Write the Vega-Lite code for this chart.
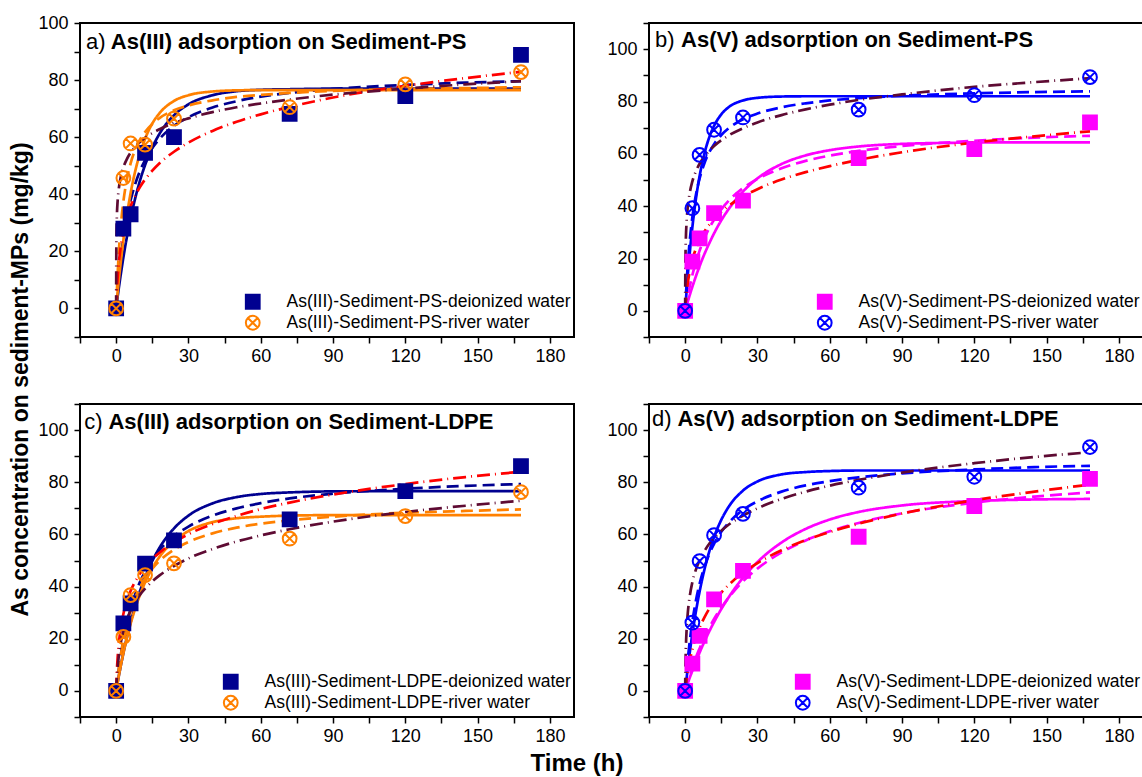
{
"$schema": "https://vega.github.io/schema/vega-lite/v6.json",
"padding": {"left": 9, "top": 13, "right": 0, "bottom": 0},
"config": {
  "font": "Liberation Sans",
  "view": {"stroke": "black", "strokeWidth": 2},
  "axis": {"grid": false, "domain": false, "tickColor": "black", "tickWidth": 1.5, "tickSize": 6, "labelFont": "Liberation Sans", "labelFontSize": 18, "labelColor": "black", "labelPadding": 4},
  "legend": {"orient": "bottom-right", "offset": 3, "padding": 0, "labelFont": "Liberation Sans", "labelFontSize": 17.5, "labelColor": "black", "labelLimit": 0, "symbolSize": 190, "symbolStrokeWidth": 2, "labelOffset": 25, "rowPadding": -2},
  "title": {"font": "Liberation Sans", "fontWeight": "bold", "color": "black"}
},
"title": {"text": "Time (h)", "orient": "bottom", "fontSize": 24, "offset": 6, "anchor": "middle"},
"datasets": {
"points": [
{"panel":"a","series":"As(III)-Sediment-PS-deionized water","time":0,"q":0},
{"panel":"a","series":"As(III)-Sediment-PS-deionized water","time":3,"q":28},
{"panel":"a","series":"As(III)-Sediment-PS-deionized water","time":6,"q":33},
{"panel":"a","series":"As(III)-Sediment-PS-deionized water","time":12,"q":54.5},
{"panel":"a","series":"As(III)-Sediment-PS-deionized water","time":24,"q":60},
{"panel":"a","series":"As(III)-Sediment-PS-deionized water","time":72,"q":68.2},
{"panel":"a","series":"As(III)-Sediment-PS-deionized water","time":120,"q":74.4},
{"panel":"a","series":"As(III)-Sediment-PS-deionized water","time":168,"q":88.8},
{"panel":"a","series":"As(III)-Sediment-PS-river water","time":0,"q":0},
{"panel":"a","series":"As(III)-Sediment-PS-river water","time":3,"q":45.7},
{"panel":"a","series":"As(III)-Sediment-PS-river water","time":6,"q":57.8},
{"panel":"a","series":"As(III)-Sediment-PS-river water","time":12,"q":57.4},
{"panel":"a","series":"As(III)-Sediment-PS-river water","time":24,"q":66.5},
{"panel":"a","series":"As(III)-Sediment-PS-river water","time":72,"q":70.5},
{"panel":"a","series":"As(III)-Sediment-PS-river water","time":120,"q":78.5},
{"panel":"a","series":"As(III)-Sediment-PS-river water","time":168,"q":82.8},
{"panel":"b","series":"As(V)-Sediment-PS-deionized water","time":0,"q":0},
{"panel":"b","series":"As(V)-Sediment-PS-deionized water","time":3,"q":18.8},
{"panel":"b","series":"As(V)-Sediment-PS-deionized water","time":6,"q":27.7},
{"panel":"b","series":"As(V)-Sediment-PS-deionized water","time":12,"q":37.3},
{"panel":"b","series":"As(V)-Sediment-PS-deionized water","time":24,"q":42.1},
{"panel":"b","series":"As(V)-Sediment-PS-deionized water","time":72,"q":58.4},
{"panel":"b","series":"As(V)-Sediment-PS-deionized water","time":120,"q":61.8},
{"panel":"b","series":"As(V)-Sediment-PS-deionized water","time":168,"q":72},
{"panel":"b","series":"As(V)-Sediment-PS-river water","time":0,"q":0},
{"panel":"b","series":"As(V)-Sediment-PS-river water","time":3,"q":39.2},
{"panel":"b","series":"As(V)-Sediment-PS-river water","time":6,"q":59.6},
{"panel":"b","series":"As(V)-Sediment-PS-river water","time":12,"q":69.2},
{"panel":"b","series":"As(V)-Sediment-PS-river water","time":24,"q":73.9},
{"panel":"b","series":"As(V)-Sediment-PS-river water","time":72,"q":76.9},
{"panel":"b","series":"As(V)-Sediment-PS-river water","time":120,"q":82.4},
{"panel":"b","series":"As(V)-Sediment-PS-river water","time":168,"q":89.3},
{"panel":"c","series":"As(III)-Sediment-LDPE-deionized water","time":0,"q":0},
{"panel":"c","series":"As(III)-Sediment-LDPE-deionized water","time":3,"q":25.9},
{"panel":"c","series":"As(III)-Sediment-LDPE-deionized water","time":6,"q":33.6},
{"panel":"c","series":"As(III)-Sediment-LDPE-deionized water","time":12,"q":48.8},
{"panel":"c","series":"As(III)-Sediment-LDPE-deionized water","time":24,"q":57.7},
{"panel":"c","series":"As(III)-Sediment-LDPE-deionized water","time":72,"q":65.8},
{"panel":"c","series":"As(III)-Sediment-LDPE-deionized water","time":120,"q":76.6},
{"panel":"c","series":"As(III)-Sediment-LDPE-deionized water","time":168,"q":86.2},
{"panel":"c","series":"As(III)-Sediment-LDPE-river water","time":0,"q":0},
{"panel":"c","series":"As(III)-Sediment-LDPE-river water","time":3,"q":20.7},
{"panel":"c","series":"As(III)-Sediment-LDPE-river water","time":6,"q":36.7},
{"panel":"c","series":"As(III)-Sediment-LDPE-river water","time":12,"q":44.4},
{"panel":"c","series":"As(III)-Sediment-LDPE-river water","time":24,"q":48.9},
{"panel":"c","series":"As(III)-Sediment-LDPE-river water","time":72,"q":58.4},
{"panel":"c","series":"As(III)-Sediment-LDPE-river water","time":120,"q":67},
{"panel":"c","series":"As(III)-Sediment-LDPE-river water","time":168,"q":76.2},
{"panel":"d","series":"As(V)-Sediment-LDPE-deionized water","time":0,"q":0},
{"panel":"d","series":"As(V)-Sediment-LDPE-deionized water","time":3,"q":10.5},
{"panel":"d","series":"As(V)-Sediment-LDPE-deionized water","time":6,"q":21.1},
{"panel":"d","series":"As(V)-Sediment-LDPE-deionized water","time":12,"q":35.1},
{"panel":"d","series":"As(V)-Sediment-LDPE-deionized water","time":24,"q":46},
{"panel":"d","series":"As(V)-Sediment-LDPE-deionized water","time":72,"q":59.1},
{"panel":"d","series":"As(V)-Sediment-LDPE-deionized water","time":120,"q":70.9},
{"panel":"d","series":"As(V)-Sediment-LDPE-deionized water","time":168,"q":81.3},
{"panel":"d","series":"As(V)-Sediment-LDPE-river water","time":0,"q":0},
{"panel":"d","series":"As(V)-Sediment-LDPE-river water","time":3,"q":26.2},
{"panel":"d","series":"As(V)-Sediment-LDPE-river water","time":6,"q":49.8},
{"panel":"d","series":"As(V)-Sediment-LDPE-river water","time":12,"q":59.7},
{"panel":"d","series":"As(V)-Sediment-LDPE-river water","time":24,"q":67.9},
{"panel":"d","series":"As(V)-Sediment-LDPE-river water","time":72,"q":77.9},
{"panel":"d","series":"As(V)-Sediment-LDPE-river water","time":120,"q":82.1},
{"panel":"d","series":"As(V)-Sediment-LDPE-river water","time":168,"q":93.5}
],
"fits": [
{"panel":"a","curve":"d-PFO","time":0,"q":0},{"panel":"a","curve":"d-PFO","time":1,"q":6.5},{"panel":"a","curve":"d-PFO","time":2,"q":12.4},{"panel":"a","curve":"d-PFO","time":3,"q":17.9},{"panel":"a","curve":"d-PFO","time":4.5,"q":25.2},{"panel":"a","curve":"d-PFO","time":6,"q":31.6},{"panel":"a","curve":"d-PFO","time":8,"q":38.9},{"panel":"a","curve":"d-PFO","time":10,"q":45.1},{"panel":"a","curve":"d-PFO","time":12,"q":50.2},{"panel":"a","curve":"d-PFO","time":15,"q":56.4},{"panel":"a","curve":"d-PFO","time":18,"q":61.2},{"panel":"a","curve":"d-PFO","time":24,"q":67.7},{"panel":"a","curve":"d-PFO","time":30,"q":71.5},{"panel":"a","curve":"d-PFO","time":40,"q":74.7},{"panel":"a","curve":"d-PFO","time":50,"q":76.1},{"panel":"a","curve":"d-PFO","time":60,"q":76.6},{"panel":"a","curve":"d-PFO","time":72,"q":76.8},{"panel":"a","curve":"d-PFO","time":90,"q":77},{"panel":"a","curve":"d-PFO","time":120,"q":77},{"panel":"a","curve":"d-PFO","time":145,"q":77},{"panel":"a","curve":"d-PFO","time":168,"q":77},
{"panel":"a","curve":"d-PSO","time":0,"q":0},{"panel":"a","curve":"d-PSO","time":1,"q":10.2},{"panel":"a","curve":"d-PSO","time":2,"q":18.2},{"panel":"a","curve":"d-PSO","time":3,"q":24.5},{"panel":"a","curve":"d-PSO","time":4.5,"q":32.1},{"panel":"a","curve":"d-PSO","time":6,"q":37.9},{"panel":"a","curve":"d-PSO","time":8,"q":43.8},{"panel":"a","curve":"d-PSO","time":10,"q":48.4},{"panel":"a","curve":"d-PSO","time":12,"q":52},{"panel":"a","curve":"d-PSO","time":15,"q":56.2},{"panel":"a","curve":"d-PSO","time":18,"q":59.4},{"panel":"a","curve":"d-PSO","time":24,"q":64},{"panel":"a","curve":"d-PSO","time":30,"q":67},{"panel":"a","curve":"d-PSO","time":40,"q":70.4},{"panel":"a","curve":"d-PSO","time":50,"q":72.6},{"panel":"a","curve":"d-PSO","time":60,"q":74.2},{"panel":"a","curve":"d-PSO","time":72,"q":75.5},{"panel":"a","curve":"d-PSO","time":90,"q":76.9},{"panel":"a","curve":"d-PSO","time":120,"q":78.3},{"panel":"a","curve":"d-PSO","time":145,"q":79.1},{"panel":"a","curve":"d-PSO","time":168,"q":79.6},
{"panel":"a","curve":"r-PFO","time":0,"q":0},{"panel":"a","curve":"r-PFO","time":1,"q":9},{"panel":"a","curve":"r-PFO","time":2,"q":16.9},{"panel":"a","curve":"r-PFO","time":3,"q":23.9},{"panel":"a","curve":"r-PFO","time":4.5,"q":32.9},{"panel":"a","curve":"r-PFO","time":6,"q":40.4},{"panel":"a","curve":"r-PFO","time":8,"q":48.4},{"panel":"a","curve":"r-PFO","time":10,"q":54.6},{"panel":"a","curve":"r-PFO","time":12,"q":59.4},{"panel":"a","curve":"r-PFO","time":15,"q":64.8},{"panel":"a","curve":"r-PFO","time":18,"q":68.4},{"panel":"a","curve":"r-PFO","time":24,"q":72.7},{"panel":"a","curve":"r-PFO","time":30,"q":74.7},{"panel":"a","curve":"r-PFO","time":40,"q":76},{"panel":"a","curve":"r-PFO","time":50,"q":76.4},{"panel":"a","curve":"r-PFO","time":60,"q":76.5},{"panel":"a","curve":"r-PFO","time":72,"q":76.5},{"panel":"a","curve":"r-PFO","time":90,"q":76.5},{"panel":"a","curve":"r-PFO","time":120,"q":76.5},{"panel":"a","curve":"r-PFO","time":145,"q":76.5},{"panel":"a","curve":"r-PFO","time":168,"q":76.5},
{"panel":"a","curve":"r-PSO","time":0,"q":0},{"panel":"a","curve":"r-PSO","time":1,"q":18.2},{"panel":"a","curve":"r-PSO","time":2,"q":29.6},{"panel":"a","curve":"r-PSO","time":3,"q":37.4},{"panel":"a","curve":"r-PSO","time":4.5,"q":45.4},{"panel":"a","curve":"r-PSO","time":6,"q":50.8},{"panel":"a","curve":"r-PSO","time":8,"q":55.8},{"panel":"a","curve":"r-PSO","time":10,"q":59.3},{"panel":"a","curve":"r-PSO","time":12,"q":61.8},{"panel":"a","curve":"r-PSO","time":15,"q":64.6},{"panel":"a","curve":"r-PSO","time":18,"q":66.7},{"panel":"a","curve":"r-PSO","time":24,"q":69.4},{"panel":"a","curve":"r-PSO","time":30,"q":71.1},{"panel":"a","curve":"r-PSO","time":40,"q":72.9},{"panel":"a","curve":"r-PSO","time":50,"q":74.1},{"panel":"a","curve":"r-PSO","time":60,"q":74.8},{"panel":"a","curve":"r-PSO","time":72,"q":75.5},{"panel":"a","curve":"r-PSO","time":90,"q":76.2},{"panel":"a","curve":"r-PSO","time":120,"q":76.9},{"panel":"a","curve":"r-PSO","time":145,"q":77.2},{"panel":"a","curve":"r-PSO","time":168,"q":77.5},
{"panel":"a","curve":"d-Elovich","time":0,"q":0},{"panel":"a","curve":"d-Elovich","time":0.1,"q":2.4},{"panel":"a","curve":"d-Elovich","time":0.3,"q":6.3},{"panel":"a","curve":"d-Elovich","time":0.6,"q":10.6},{"panel":"a","curve":"d-Elovich","time":1,"q":14.9},{"panel":"a","curve":"d-Elovich","time":2,"q":22.1},{"panel":"a","curve":"d-Elovich","time":3,"q":26.9},{"panel":"a","curve":"d-Elovich","time":4.5,"q":32},{"panel":"a","curve":"d-Elovich","time":6,"q":35.8},{"panel":"a","curve":"d-Elovich","time":8,"q":39.6},{"panel":"a","curve":"d-Elovich","time":10,"q":42.7},{"panel":"a","curve":"d-Elovich","time":12,"q":45.2},{"panel":"a","curve":"d-Elovich","time":15,"q":48.3},{"panel":"a","curve":"d-Elovich","time":18,"q":50.9},{"panel":"a","curve":"d-Elovich","time":24,"q":54.9},{"panel":"a","curve":"d-Elovich","time":30,"q":58.1},{"panel":"a","curve":"d-Elovich","time":40,"q":62.2},{"panel":"a","curve":"d-Elovich","time":50,"q":65.4},{"panel":"a","curve":"d-Elovich","time":60,"q":68},{"panel":"a","curve":"d-Elovich","time":72,"q":70.6},{"panel":"a","curve":"d-Elovich","time":90,"q":73.9},{"panel":"a","curve":"d-Elovich","time":120,"q":78},{"panel":"a","curve":"d-Elovich","time":145,"q":80.7},{"panel":"a","curve":"d-Elovich","time":168,"q":82.9},
{"panel":"a","curve":"r-Elovich","time":0,"q":0},{"panel":"a","curve":"r-Elovich","time":0.1,"q":24.2},{"panel":"a","curve":"r-Elovich","time":0.3,"q":32.2},{"panel":"a","curve":"r-Elovich","time":0.6,"q":37.4},{"panel":"a","curve":"r-Elovich","time":1,"q":41.2},{"panel":"a","curve":"r-Elovich","time":2,"q":46.4},{"panel":"a","curve":"r-Elovich","time":3,"q":49.4},{"panel":"a","curve":"r-Elovich","time":4.5,"q":52.4},{"panel":"a","curve":"r-Elovich","time":6,"q":54.6},{"panel":"a","curve":"r-Elovich","time":8,"q":56.7},{"panel":"a","curve":"r-Elovich","time":10,"q":58.4},{"panel":"a","curve":"r-Elovich","time":12,"q":59.8},{"panel":"a","curve":"r-Elovich","time":15,"q":61.4},{"panel":"a","curve":"r-Elovich","time":18,"q":62.8},{"panel":"a","curve":"r-Elovich","time":24,"q":65},{"panel":"a","curve":"r-Elovich","time":30,"q":66.6},{"panel":"a","curve":"r-Elovich","time":40,"q":68.8},{"panel":"a","curve":"r-Elovich","time":50,"q":70.5},{"panel":"a","curve":"r-Elovich","time":60,"q":71.8},{"panel":"a","curve":"r-Elovich","time":72,"q":73.2},{"panel":"a","curve":"r-Elovich","time":90,"q":74.9},{"panel":"a","curve":"r-Elovich","time":120,"q":77},{"panel":"a","curve":"r-Elovich","time":145,"q":78.5},{"panel":"a","curve":"r-Elovich","time":168,"q":79.6},
{"panel":"b","curve":"d-PFO","time":0,"q":0},{"panel":"b","curve":"d-PFO","time":1,"q":3.2},{"panel":"b","curve":"d-PFO","time":2,"q":6.3},{"panel":"b","curve":"d-PFO","time":3,"q":9.2},{"panel":"b","curve":"d-PFO","time":4.5,"q":13.3},{"panel":"b","curve":"d-PFO","time":6,"q":17.1},{"panel":"b","curve":"d-PFO","time":8,"q":21.7},{"panel":"b","curve":"d-PFO","time":10,"q":25.8},{"panel":"b","curve":"d-PFO","time":12,"q":29.6},{"panel":"b","curve":"d-PFO","time":15,"q":34.6},{"panel":"b","curve":"d-PFO","time":18,"q":38.8},{"panel":"b","curve":"d-PFO","time":24,"q":45.6},{"panel":"b","curve":"d-PFO","time":30,"q":50.6},{"panel":"b","curve":"d-PFO","time":40,"q":56.1},{"panel":"b","curve":"d-PFO","time":50,"q":59.4},{"panel":"b","curve":"d-PFO","time":60,"q":61.4},{"panel":"b","curve":"d-PFO","time":72,"q":62.8},{"panel":"b","curve":"d-PFO","time":90,"q":63.8},{"panel":"b","curve":"d-PFO","time":120,"q":64.3},{"panel":"b","curve":"d-PFO","time":145,"q":64.4},{"panel":"b","curve":"d-PFO","time":168,"q":64.4},
{"panel":"b","curve":"d-PSO","time":0,"q":0},{"panel":"b","curve":"d-PSO","time":1,"q":5.2},{"panel":"b","curve":"d-PSO","time":2,"q":9.7},{"panel":"b","curve":"d-PSO","time":3,"q":13.7},{"panel":"b","curve":"d-PSO","time":4.5,"q":18.7},{"panel":"b","curve":"d-PSO","time":6,"q":23},{"panel":"b","curve":"d-PSO","time":8,"q":27.7},{"panel":"b","curve":"d-PSO","time":10,"q":31.6},{"panel":"b","curve":"d-PSO","time":12,"q":34.8},{"panel":"b","curve":"d-PSO","time":15,"q":38.8},{"panel":"b","curve":"d-PSO","time":18,"q":42},{"panel":"b","curve":"d-PSO","time":24,"q":46.9},{"panel":"b","curve":"d-PSO","time":30,"q":50.4},{"panel":"b","curve":"d-PSO","time":40,"q":54.5},{"panel":"b","curve":"d-PSO","time":50,"q":57.3},{"panel":"b","curve":"d-PSO","time":60,"q":59.3},{"panel":"b","curve":"d-PSO","time":72,"q":61.1},{"panel":"b","curve":"d-PSO","time":90,"q":63},{"panel":"b","curve":"d-PSO","time":120,"q":65},{"panel":"b","curve":"d-PSO","time":145,"q":66.2},{"panel":"b","curve":"d-PSO","time":168,"q":66.9},
{"panel":"b","curve":"r-PFO","time":0,"q":0},{"panel":"b","curve":"r-PFO","time":1,"q":12.5},{"panel":"b","curve":"r-PFO","time":2,"q":23},{"panel":"b","curve":"r-PFO","time":3,"q":32},{"panel":"b","curve":"r-PFO","time":4.5,"q":43},{"panel":"b","curve":"r-PFO","time":6,"q":51.5},{"panel":"b","curve":"r-PFO","time":8,"q":60.1},{"panel":"b","curve":"r-PFO","time":10,"q":66.3},{"panel":"b","curve":"r-PFO","time":12,"q":70.7},{"panel":"b","curve":"r-PFO","time":15,"q":75.1},{"panel":"b","curve":"r-PFO","time":18,"q":77.8},{"panel":"b","curve":"r-PFO","time":24,"q":80.4},{"panel":"b","curve":"r-PFO","time":30,"q":81.4},{"panel":"b","curve":"r-PFO","time":40,"q":81.9},{"panel":"b","curve":"r-PFO","time":50,"q":82},{"panel":"b","curve":"r-PFO","time":60,"q":82},{"panel":"b","curve":"r-PFO","time":72,"q":82},{"panel":"b","curve":"r-PFO","time":90,"q":82},{"panel":"b","curve":"r-PFO","time":120,"q":82},{"panel":"b","curve":"r-PFO","time":145,"q":82},{"panel":"b","curve":"r-PFO","time":168,"q":82},
{"panel":"b","curve":"r-PSO","time":0,"q":0},{"panel":"b","curve":"r-PSO","time":1,"q":16.5},{"panel":"b","curve":"r-PSO","time":2,"q":27.7},{"panel":"b","curve":"r-PSO","time":3,"q":35.8},{"panel":"b","curve":"r-PSO","time":4.5,"q":44.5},{"panel":"b","curve":"r-PSO","time":6,"q":50.6},{"panel":"b","curve":"r-PSO","time":8,"q":56.4},{"panel":"b","curve":"r-PSO","time":10,"q":60.6},{"panel":"b","curve":"r-PSO","time":12,"q":63.7},{"panel":"b","curve":"r-PSO","time":15,"q":67.2},{"panel":"b","curve":"r-PSO","time":18,"q":69.7},{"panel":"b","curve":"r-PSO","time":24,"q":73.2},{"panel":"b","curve":"r-PSO","time":30,"q":75.4},{"panel":"b","curve":"r-PSO","time":40,"q":77.8},{"panel":"b","curve":"r-PSO","time":50,"q":79.3},{"panel":"b","curve":"r-PSO","time":60,"q":80.4},{"panel":"b","curve":"r-PSO","time":72,"q":81.3},{"panel":"b","curve":"r-PSO","time":90,"q":82.2},{"panel":"b","curve":"r-PSO","time":120,"q":83.1},{"panel":"b","curve":"r-PSO","time":145,"q":83.6},{"panel":"b","curve":"r-PSO","time":168,"q":83.9},
{"panel":"b","curve":"d-Elovich","time":0,"q":0},{"panel":"b","curve":"d-Elovich","time":0.1,"q":1.4},{"panel":"b","curve":"d-Elovich","time":0.3,"q":3.9},{"panel":"b","curve":"d-Elovich","time":0.6,"q":6.9},{"panel":"b","curve":"d-Elovich","time":1,"q":10},{"panel":"b","curve":"d-Elovich","time":2,"q":15.6},{"panel":"b","curve":"d-Elovich","time":3,"q":19.5},{"panel":"b","curve":"d-Elovich","time":4.5,"q":23.8},{"panel":"b","curve":"d-Elovich","time":6,"q":27},{"panel":"b","curve":"d-Elovich","time":8,"q":30.3},{"panel":"b","curve":"d-Elovich","time":10,"q":32.9},{"panel":"b","curve":"d-Elovich","time":12,"q":35.1},{"panel":"b","curve":"d-Elovich","time":15,"q":37.9},{"panel":"b","curve":"d-Elovich","time":18,"q":40.1},{"panel":"b","curve":"d-Elovich","time":24,"q":43.7},{"panel":"b","curve":"d-Elovich","time":30,"q":46.5},{"panel":"b","curve":"d-Elovich","time":40,"q":50.2},{"panel":"b","curve":"d-Elovich","time":50,"q":53},{"panel":"b","curve":"d-Elovich","time":60,"q":55.3},{"panel":"b","curve":"d-Elovich","time":72,"q":57.7},{"panel":"b","curve":"d-Elovich","time":90,"q":60.6},{"panel":"b","curve":"d-Elovich","time":120,"q":64.3},{"panel":"b","curve":"d-Elovich","time":145,"q":66.7},{"panel":"b","curve":"d-Elovich","time":168,"q":68.6},
{"panel":"b","curve":"r-Elovich","time":0,"q":0},{"panel":"b","curve":"r-Elovich","time":0.1,"q":17.8},{"panel":"b","curve":"r-Elovich","time":0.3,"q":27.5},{"panel":"b","curve":"r-Elovich","time":0.6,"q":33.9},{"panel":"b","curve":"r-Elovich","time":1,"q":38.8},{"panel":"b","curve":"r-Elovich","time":2,"q":45.5},{"panel":"b","curve":"r-Elovich","time":3,"q":49.5},{"panel":"b","curve":"r-Elovich","time":4.5,"q":53.4},{"panel":"b","curve":"r-Elovich","time":6,"q":56.2},{"panel":"b","curve":"r-Elovich","time":8,"q":59},{"panel":"b","curve":"r-Elovich","time":10,"q":61.2},{"panel":"b","curve":"r-Elovich","time":12,"q":63},{"panel":"b","curve":"r-Elovich","time":15,"q":65.2},{"panel":"b","curve":"r-Elovich","time":18,"q":67},{"panel":"b","curve":"r-Elovich","time":24,"q":69.8},{"panel":"b","curve":"r-Elovich","time":30,"q":72},{"panel":"b","curve":"r-Elovich","time":40,"q":74.8},{"panel":"b","curve":"r-Elovich","time":50,"q":77},{"panel":"b","curve":"r-Elovich","time":60,"q":78.8},{"panel":"b","curve":"r-Elovich","time":72,"q":80.6},{"panel":"b","curve":"r-Elovich","time":90,"q":82.7},{"panel":"b","curve":"r-Elovich","time":120,"q":85.6},{"panel":"b","curve":"r-Elovich","time":145,"q":87.4},{"panel":"b","curve":"r-Elovich","time":168,"q":88.9},
{"panel":"c","curve":"d-PFO","time":0,"q":0},{"panel":"c","curve":"d-PFO","time":1,"q":5.2},{"panel":"c","curve":"d-PFO","time":2,"q":10},{"panel":"c","curve":"d-PFO","time":3,"q":14.5},{"panel":"c","curve":"d-PFO","time":4.5,"q":20.7},{"panel":"c","curve":"d-PFO","time":6,"q":26.3},{"panel":"c","curve":"d-PFO","time":8,"q":32.8},{"panel":"c","curve":"d-PFO","time":10,"q":38.6},{"panel":"c","curve":"d-PFO","time":12,"q":43.5},{"panel":"c","curve":"d-PFO","time":15,"q":49.8},{"panel":"c","curve":"d-PFO","time":18,"q":54.9},{"panel":"c","curve":"d-PFO","time":24,"q":62.3},{"panel":"c","curve":"d-PFO","time":30,"q":67.2},{"panel":"c","curve":"d-PFO","time":40,"q":71.9},{"panel":"c","curve":"d-PFO","time":50,"q":74.3},{"panel":"c","curve":"d-PFO","time":60,"q":75.5},{"panel":"c","curve":"d-PFO","time":72,"q":76.1},{"panel":"c","curve":"d-PFO","time":90,"q":76.5},{"panel":"c","curve":"d-PFO","time":120,"q":76.6},{"panel":"c","curve":"d-PFO","time":145,"q":76.6},{"panel":"c","curve":"d-PFO","time":168,"q":76.6},
{"panel":"c","curve":"d-PSO","time":0,"q":0},{"panel":"c","curve":"d-PSO","time":1,"q":7.6},{"panel":"c","curve":"d-PSO","time":2,"q":14},{"panel":"c","curve":"d-PSO","time":3,"q":19.4},{"panel":"c","curve":"d-PSO","time":4.5,"q":26.1},{"panel":"c","curve":"d-PSO","time":6,"q":31.5},{"panel":"c","curve":"d-PSO","time":8,"q":37.3},{"panel":"c","curve":"d-PSO","time":10,"q":42},{"panel":"c","curve":"d-PSO","time":12,"q":45.8},{"panel":"c","curve":"d-PSO","time":15,"q":50.4},{"panel":"c","curve":"d-PSO","time":18,"q":54},{"panel":"c","curve":"d-PSO","time":24,"q":59.3},{"panel":"c","curve":"d-PSO","time":30,"q":63},{"panel":"c","curve":"d-PSO","time":40,"q":67.2},{"panel":"c","curve":"d-PSO","time":50,"q":70},{"panel":"c","curve":"d-PSO","time":60,"q":72},{"panel":"c","curve":"d-PSO","time":72,"q":73.8},{"panel":"c","curve":"d-PSO","time":90,"q":75.6},{"panel":"c","curve":"d-PSO","time":120,"q":77.5},{"panel":"c","curve":"d-PSO","time":145,"q":78.6},{"panel":"c","curve":"d-PSO","time":168,"q":79.3},
{"panel":"c","curve":"r-PFO","time":0,"q":0},{"panel":"c","curve":"r-PFO","time":1,"q":5.2},{"panel":"c","curve":"r-PFO","time":2,"q":10},{"panel":"c","curve":"r-PFO","time":3,"q":14.4},{"panel":"c","curve":"r-PFO","time":4.5,"q":20.4},{"panel":"c","curve":"r-PFO","time":6,"q":25.7},{"panel":"c","curve":"r-PFO","time":8,"q":31.9},{"panel":"c","curve":"r-PFO","time":10,"q":37.1},{"panel":"c","curve":"r-PFO","time":12,"q":41.6},{"panel":"c","curve":"r-PFO","time":15,"q":47.1},{"panel":"c","curve":"r-PFO","time":18,"q":51.4},{"panel":"c","curve":"r-PFO","time":24,"q":57.5},{"panel":"c","curve":"r-PFO","time":30,"q":61.3},{"panel":"c","curve":"r-PFO","time":40,"q":64.7},{"panel":"c","curve":"r-PFO","time":50,"q":66.2},{"panel":"c","curve":"r-PFO","time":60,"q":66.8},{"panel":"c","curve":"r-PFO","time":72,"q":67.2},{"panel":"c","curve":"r-PFO","time":90,"q":67.4},{"panel":"c","curve":"r-PFO","time":120,"q":67.4},{"panel":"c","curve":"r-PFO","time":145,"q":67.4},{"panel":"c","curve":"r-PFO","time":168,"q":67.4},
{"panel":"c","curve":"r-PSO","time":0,"q":0},{"panel":"c","curve":"r-PSO","time":1,"q":7.8},{"panel":"c","curve":"r-PSO","time":2,"q":14.1},{"panel":"c","curve":"r-PSO","time":3,"q":19.3},{"panel":"c","curve":"r-PSO","time":4.5,"q":25.6},{"panel":"c","curve":"r-PSO","time":6,"q":30.6},{"panel":"c","curve":"r-PSO","time":8,"q":35.8},{"panel":"c","curve":"r-PSO","time":10,"q":39.8},{"panel":"c","curve":"r-PSO","time":12,"q":43.1},{"panel":"c","curve":"r-PSO","time":15,"q":46.9},{"panel":"c","curve":"r-PSO","time":18,"q":49.9},{"panel":"c","curve":"r-PSO","time":24,"q":54.2},{"panel":"c","curve":"r-PSO","time":30,"q":57.1},{"panel":"c","curve":"r-PSO","time":40,"q":60.4},{"panel":"c","curve":"r-PSO","time":50,"q":62.6},{"panel":"c","curve":"r-PSO","time":60,"q":64.1},{"panel":"c","curve":"r-PSO","time":72,"q":65.4},{"panel":"c","curve":"r-PSO","time":90,"q":66.8},{"panel":"c","curve":"r-PSO","time":120,"q":68.3},{"panel":"c","curve":"r-PSO","time":145,"q":69},{"panel":"c","curve":"r-PSO","time":168,"q":69.6},
{"panel":"c","curve":"d-Elovich","time":0,"q":0},{"panel":"c","curve":"d-Elovich","time":0.1,"q":3},{"panel":"c","curve":"d-Elovich","time":0.3,"q":7.6},{"panel":"c","curve":"d-Elovich","time":0.6,"q":12.5},{"panel":"c","curve":"d-Elovich","time":1,"q":17.1},{"panel":"c","curve":"d-Elovich","time":2,"q":24.6},{"panel":"c","curve":"d-Elovich","time":3,"q":29.5},{"panel":"c","curve":"d-Elovich","time":4.5,"q":34.6},{"panel":"c","curve":"d-Elovich","time":6,"q":38.3},{"panel":"c","curve":"d-Elovich","time":8,"q":42.1},{"panel":"c","curve":"d-Elovich","time":10,"q":45.1},{"panel":"c","curve":"d-Elovich","time":12,"q":47.5},{"panel":"c","curve":"d-Elovich","time":15,"q":50.6},{"panel":"c","curve":"d-Elovich","time":18,"q":53},{"panel":"c","curve":"d-Elovich","time":24,"q":57},{"panel":"c","curve":"d-Elovich","time":30,"q":60.1},{"panel":"c","curve":"d-Elovich","time":40,"q":64},{"panel":"c","curve":"d-Elovich","time":50,"q":67.1},{"panel":"c","curve":"d-Elovich","time":60,"q":69.7},{"panel":"c","curve":"d-Elovich","time":72,"q":72.2},{"panel":"c","curve":"d-Elovich","time":90,"q":75.3},{"panel":"c","curve":"d-Elovich","time":120,"q":79.3},{"panel":"c","curve":"d-Elovich","time":145,"q":82},{"panel":"c","curve":"d-Elovich","time":168,"q":84},
{"panel":"c","curve":"r-Elovich","time":0,"q":0},{"panel":"c","curve":"r-Elovich","time":0.1,"q":2},{"panel":"c","curve":"r-Elovich","time":0.3,"q":5.1},{"panel":"c","curve":"r-Elovich","time":0.6,"q":8.8},{"panel":"c","curve":"r-Elovich","time":1,"q":12.5},{"panel":"c","curve":"r-Elovich","time":2,"q":18.8},{"panel":"c","curve":"r-Elovich","time":3,"q":23},{"panel":"c","curve":"r-Elovich","time":4.5,"q":27.5},{"panel":"c","curve":"r-Elovich","time":6,"q":30.8},{"panel":"c","curve":"r-Elovich","time":8,"q":34.3},{"panel":"c","curve":"r-Elovich","time":10,"q":37},{"panel":"c","curve":"r-Elovich","time":12,"q":39.2},{"panel":"c","curve":"r-Elovich","time":15,"q":42},{"panel":"c","curve":"r-Elovich","time":18,"q":44.3},{"panel":"c","curve":"r-Elovich","time":24,"q":47.9},{"panel":"c","curve":"r-Elovich","time":30,"q":50.8},{"panel":"c","curve":"r-Elovich","time":40,"q":54.4},{"panel":"c","curve":"r-Elovich","time":50,"q":57.3},{"panel":"c","curve":"r-Elovich","time":60,"q":59.6},{"panel":"c","curve":"r-Elovich","time":72,"q":62},{"panel":"c","curve":"r-Elovich","time":90,"q":64.9},{"panel":"c","curve":"r-Elovich","time":120,"q":68.6},{"panel":"c","curve":"r-Elovich","time":145,"q":71},{"panel":"c","curve":"r-Elovich","time":168,"q":72.9},
{"panel":"d","curve":"d-PFO","time":0,"q":0},{"panel":"d","curve":"d-PFO","time":1,"q":2.7},{"panel":"d","curve":"d-PFO","time":2,"q":5.3},{"panel":"d","curve":"d-PFO","time":3,"q":7.7},{"panel":"d","curve":"d-PFO","time":4.5,"q":11.3},{"panel":"d","curve":"d-PFO","time":6,"q":14.7},{"panel":"d","curve":"d-PFO","time":8,"q":18.9},{"panel":"d","curve":"d-PFO","time":10,"q":22.8},{"panel":"d","curve":"d-PFO","time":12,"q":26.4},{"panel":"d","curve":"d-PFO","time":15,"q":31.4},{"panel":"d","curve":"d-PFO","time":18,"q":35.8},{"panel":"d","curve":"d-PFO","time":24,"q":43.4},{"panel":"d","curve":"d-PFO","time":30,"q":49.4},{"panel":"d","curve":"d-PFO","time":40,"q":56.9},{"panel":"d","curve":"d-PFO","time":50,"q":62.1},{"panel":"d","curve":"d-PFO","time":60,"q":65.7},{"panel":"d","curve":"d-PFO","time":72,"q":68.6},{"panel":"d","curve":"d-PFO","time":90,"q":71.1},{"panel":"d","curve":"d-PFO","time":120,"q":72.8},{"panel":"d","curve":"d-PFO","time":145,"q":73.4},{"panel":"d","curve":"d-PFO","time":168,"q":73.6},
{"panel":"d","curve":"d-PSO","time":0,"q":0},{"panel":"d","curve":"d-PSO","time":1,"q":3.2},{"panel":"d","curve":"d-PSO","time":2,"q":6.2},{"panel":"d","curve":"d-PSO","time":3,"q":9},{"panel":"d","curve":"d-PSO","time":4.5,"q":12.9},{"panel":"d","curve":"d-PSO","time":6,"q":16.3},{"panel":"d","curve":"d-PSO","time":8,"q":20.5},{"panel":"d","curve":"d-PSO","time":10,"q":24.2},{"panel":"d","curve":"d-PSO","time":12,"q":27.6},{"panel":"d","curve":"d-PSO","time":15,"q":31.9},{"panel":"d","curve":"d-PSO","time":18,"q":35.7},{"panel":"d","curve":"d-PSO","time":24,"q":42},{"panel":"d","curve":"d-PSO","time":30,"q":46.9},{"panel":"d","curve":"d-PSO","time":40,"q":53.1},{"panel":"d","curve":"d-PSO","time":50,"q":57.7},{"panel":"d","curve":"d-PSO","time":60,"q":61.2},{"panel":"d","curve":"d-PSO","time":72,"q":64.4},{"panel":"d","curve":"d-PSO","time":90,"q":68.1},{"panel":"d","curve":"d-PSO","time":120,"q":72.2},{"panel":"d","curve":"d-PSO","time":145,"q":74.5},{"panel":"d","curve":"d-PSO","time":168,"q":76.1},
{"panel":"d","curve":"r-PFO","time":0,"q":0},{"panel":"d","curve":"r-PFO","time":1,"q":8},{"panel":"d","curve":"r-PFO","time":2,"q":15.3},{"panel":"d","curve":"r-PFO","time":3,"q":21.9},{"panel":"d","curve":"r-PFO","time":4.5,"q":30.6},{"panel":"d","curve":"r-PFO","time":6,"q":38.1},{"panel":"d","curve":"r-PFO","time":8,"q":46.5},{"panel":"d","curve":"r-PFO","time":10,"q":53.4},{"panel":"d","curve":"r-PFO","time":12,"q":59},{"panel":"d","curve":"r-PFO","time":15,"q":65.6},{"panel":"d","curve":"r-PFO","time":18,"q":70.5},{"panel":"d","curve":"r-PFO","time":24,"q":76.8},{"panel":"d","curve":"r-PFO","time":30,"q":80.3},{"panel":"d","curve":"r-PFO","time":40,"q":83},{"panel":"d","curve":"r-PFO","time":50,"q":83.9},{"panel":"d","curve":"r-PFO","time":60,"q":84.3},{"panel":"d","curve":"r-PFO","time":72,"q":84.5},{"panel":"d","curve":"r-PFO","time":90,"q":84.5},{"panel":"d","curve":"r-PFO","time":120,"q":84.5},{"panel":"d","curve":"r-PFO","time":145,"q":84.5},{"panel":"d","curve":"r-PFO","time":168,"q":84.5},
{"panel":"d","curve":"r-PSO","time":0,"q":0},{"panel":"d","curve":"r-PSO","time":1,"q":11.1},{"panel":"d","curve":"r-PSO","time":2,"q":19.7},{"panel":"d","curve":"r-PSO","time":3,"q":26.6},{"panel":"d","curve":"r-PSO","time":4.5,"q":34.8},{"panel":"d","curve":"r-PSO","time":6,"q":41.1},{"panel":"d","curve":"r-PSO","time":8,"q":47.5},{"panel":"d","curve":"r-PSO","time":10,"q":52.5},{"panel":"d","curve":"r-PSO","time":12,"q":56.4},{"panel":"d","curve":"r-PSO","time":15,"q":61},{"panel":"d","curve":"r-PSO","time":18,"q":64.4},{"panel":"d","curve":"r-PSO","time":24,"q":69.4},{"panel":"d","curve":"r-PSO","time":30,"q":72.7},{"panel":"d","curve":"r-PSO","time":40,"q":76.4},{"panel":"d","curve":"r-PSO","time":50,"q":78.8},{"panel":"d","curve":"r-PSO","time":60,"q":80.4},{"panel":"d","curve":"r-PSO","time":72,"q":81.9},{"panel":"d","curve":"r-PSO","time":90,"q":83.4},{"panel":"d","curve":"r-PSO","time":120,"q":84.9},{"panel":"d","curve":"r-PSO","time":145,"q":85.8},{"panel":"d","curve":"r-PSO","time":168,"q":86.3},
{"panel":"d","curve":"d-Elovich","time":0,"q":0},{"panel":"d","curve":"d-Elovich","time":0.1,"q":0.8},{"panel":"d","curve":"d-Elovich","time":0.3,"q":2.4},{"panel":"d","curve":"d-Elovich","time":0.6,"q":4.5},{"panel":"d","curve":"d-Elovich","time":1,"q":7},{"panel":"d","curve":"d-Elovich","time":2,"q":12},{"panel":"d","curve":"d-Elovich","time":3,"q":15.9},{"panel":"d","curve":"d-Elovich","time":4.5,"q":20.6},{"panel":"d","curve":"d-Elovich","time":6,"q":24.3},{"panel":"d","curve":"d-Elovich","time":8,"q":28.2},{"panel":"d","curve":"d-Elovich","time":10,"q":31.5},{"panel":"d","curve":"d-Elovich","time":12,"q":34.2},{"panel":"d","curve":"d-Elovich","time":15,"q":37.7},{"panel":"d","curve":"d-Elovich","time":18,"q":40.6},{"panel":"d","curve":"d-Elovich","time":24,"q":45.3},{"panel":"d","curve":"d-Elovich","time":30,"q":49},{"panel":"d","curve":"d-Elovich","time":40,"q":53.9},{"panel":"d","curve":"d-Elovich","time":50,"q":57.8},{"panel":"d","curve":"d-Elovich","time":60,"q":60.9},{"panel":"d","curve":"d-Elovich","time":72,"q":64.1},{"panel":"d","curve":"d-Elovich","time":90,"q":68},{"panel":"d","curve":"d-Elovich","time":120,"q":73.1},{"panel":"d","curve":"d-Elovich","time":145,"q":76.4},{"panel":"d","curve":"d-Elovich","time":168,"q":79.1},
{"panel":"d","curve":"r-Elovich","time":0,"q":0},{"panel":"d","curve":"r-Elovich","time":0.1,"q":8},{"panel":"d","curve":"r-Elovich","time":0.3,"q":16.4},{"panel":"d","curve":"r-Elovich","time":0.6,"q":23.2},{"panel":"d","curve":"r-Elovich","time":1,"q":28.8},{"panel":"d","curve":"r-Elovich","time":2,"q":36.8},{"panel":"d","curve":"r-Elovich","time":3,"q":41.7},{"panel":"d","curve":"r-Elovich","time":4.5,"q":46.6},{"panel":"d","curve":"r-Elovich","time":6,"q":50.1},{"panel":"d","curve":"r-Elovich","time":8,"q":53.6},{"panel":"d","curve":"r-Elovich","time":10,"q":56.4},{"panel":"d","curve":"r-Elovich","time":12,"q":58.6},{"panel":"d","curve":"r-Elovich","time":15,"q":61.4},{"panel":"d","curve":"r-Elovich","time":18,"q":63.7},{"panel":"d","curve":"r-Elovich","time":24,"q":67.2},{"panel":"d","curve":"r-Elovich","time":30,"q":70},{"panel":"d","curve":"r-Elovich","time":40,"q":73.6},{"panel":"d","curve":"r-Elovich","time":50,"q":76.4},{"panel":"d","curve":"r-Elovich","time":60,"q":78.7},{"panel":"d","curve":"r-Elovich","time":72,"q":80.9},{"panel":"d","curve":"r-Elovich","time":90,"q":83.7},{"panel":"d","curve":"r-Elovich","time":120,"q":87.3},{"panel":"d","curve":"r-Elovich","time":145,"q":89.7},{"panel":"d","curve":"r-Elovich","time":168,"q":91.5}
]
},
"vconcat": [
{
"title": {"text": "As concentration on sediment-MPs (mg/kg)", "orient": "left", "fontSize": 23, "offset": 4, "anchor": "middle"},
"columns": 2,
"spacing": {"row": 67, "column": 75},
"bounds": "flush",
"resolve": {
  "scale": {"color": "independent", "fill": "independent", "stroke": "independent", "shape": "independent", "strokeDash": "independent"},
  "legend": {"color": "independent", "fill": "independent", "stroke": "independent", "shape": "independent", "strokeDash": "independent"}
},
"concat": [
{
"width": 494, "height": 314,
"resolve": {"axis": {"x": "independent", "y": "independent"}},
"layer": [
{"data": {"name": "fits"}, "transform": [{"filter": "datum.panel === 'a'"}],
 "mark": {"type": "line", "strokeWidth": 2.7, "interpolate": "monotone", "clip": true},
 "encoding": {
  "x": {"field": "time", "type": "quantitative", "scale": {"domain": [-15, 190], "nice": false, "zero": false}, "axis": {"title": null, "orient": "bottom", "values": [0,30,60,90,120,150,180]}},
  "y": {"field": "q", "type": "quantitative", "scale": {"domain": [-10, 100], "nice": false, "zero": false}, "axis": {"title": null, "orient": "left", "values": [0,20,40,60,80,100], "labelPadding": 6}},
  "detail": {"field": "curve", "type": "nominal"},
  "color": {"field": "curve", "type": "nominal", "legend": null, "scale": {"domain": ["d-PFO","d-PSO","d-Elovich","r-PFO","r-PSO","r-Elovich"], "range": ["#000090","#000090","#FF0000","#FF8000","#FF8000","#5E0B33"]}},
  "strokeDash": {"field": "curve", "type": "nominal", "legend": null, "scale": {"domain": ["d-PFO","d-PSO","d-Elovich","r-PFO","r-PSO","r-Elovich"], "range": [[1,0],[12,6],[13,5,1,5],[1,0],[12,6],[13,5,1,5]]}}
 }},
{"data": {"name": "points"}, "transform": [{"filter": "datum.panel === 'a'"}],
 "mark": {"type": "point", "size": 190, "strokeWidth": 2, "opacity": 1},
 "encoding": {
  "x": {"field": "time", "type": "quantitative", "axis": {"title": null, "orient": "bottom", "labels": false, "values": [-15,15,45,75,105,135,165]}},
  "y": {"field": "q", "type": "quantitative", "axis": {"title": null, "orient": "left", "labels": false, "values": [-10,10,30,50,70,90]}},
  "fill": {"field": "series", "type": "nominal", "legend": {"title": null}, "scale": {"domain": ["As(III)-Sediment-PS-deionized water","As(III)-Sediment-PS-river water"], "range": ["#000090","transparent"]}},
  "stroke": {"field": "series", "type": "nominal", "legend": {"title": null}, "scale": {"domain": ["As(III)-Sediment-PS-deionized water","As(III)-Sediment-PS-river water"], "range": ["#000090","#FF8000"]}},
  "shape": {"field": "series", "type": "nominal", "legend": {"title": null}, "scale": {"domain": ["As(III)-Sediment-PS-deionized water","As(III)-Sediment-PS-river water"], "range": ["square","M-1,0A1,1,0,1,0,1,0A1,1,0,1,0,-1,0ZM-0.7,-0.7L0.7,0.7M-0.7,0.7L0.7,-0.7"]}}
 }},
{"data": {"values": [{}]}, "mark": {"type": "text", "text": "a)", "align": "left", "baseline": "middle", "fontSize": 22, "font": "Liberation Sans", "color": "black"}, "encoding": {"x": {"datum": -12.5, "axis": null}, "y": {"datum": 93.3, "axis": null}}},
{"data": {"values": [{}]}, "mark": {"type": "text", "text": "As(III) adsorption on Sediment-PS", "align": "left", "baseline": "middle", "fontSize": 22, "fontWeight": "bold", "font": "Liberation Sans", "color": "black"}, "encoding": {"x": {"datum": -2.2, "axis": null}, "y": {"datum": 93.3, "axis": null}}}
]
},
{
"width": 494, "height": 314,
"resolve": {"axis": {"x": "independent", "y": "independent"}},
"layer": [
{"data": {"name": "fits"}, "transform": [{"filter": "datum.panel === 'b'"}],
 "mark": {"type": "line", "strokeWidth": 2.7, "interpolate": "monotone", "clip": true},
 "encoding": {
  "x": {"field": "time", "type": "quantitative", "scale": {"domain": [-15, 190], "nice": false, "zero": false}, "axis": {"title": null, "orient": "bottom", "values": [0,30,60,90,120,150,180]}},
  "y": {"field": "q", "type": "quantitative", "scale": {"domain": [-10, 110], "nice": false, "zero": false}, "axis": {"title": null, "orient": "left", "values": [0,20,40,60,80,100], "labelPadding": 6}},
  "detail": {"field": "curve", "type": "nominal"},
  "color": {"field": "curve", "type": "nominal", "legend": null, "scale": {"domain": ["d-PFO","d-PSO","d-Elovich","r-PFO","r-PSO","r-Elovich"], "range": ["#FF00FF","#FF00FF","#FF0000","#0000FF","#0000FF","#5E0B33"]}},
  "strokeDash": {"field": "curve", "type": "nominal", "legend": null, "scale": {"domain": ["d-PFO","d-PSO","d-Elovich","r-PFO","r-PSO","r-Elovich"], "range": [[1,0],[12,6],[13,5,1,5],[1,0],[12,6],[13,5,1,5]]}}
 }},
{"data": {"name": "points"}, "transform": [{"filter": "datum.panel === 'b'"}],
 "mark": {"type": "point", "size": 190, "strokeWidth": 2, "opacity": 1},
 "encoding": {
  "x": {"field": "time", "type": "quantitative", "axis": {"title": null, "orient": "bottom", "labels": false, "values": [-15,15,45,75,105,135,165]}},
  "y": {"field": "q", "type": "quantitative", "axis": {"title": null, "orient": "left", "labels": false, "values": [-10,10,30,50,70,90,110]}},
  "fill": {"field": "series", "type": "nominal", "legend": {"title": null}, "scale": {"domain": ["As(V)-Sediment-PS-deionized water","As(V)-Sediment-PS-river water"], "range": ["#FF00FF","transparent"]}},
  "stroke": {"field": "series", "type": "nominal", "legend": {"title": null}, "scale": {"domain": ["As(V)-Sediment-PS-deionized water","As(V)-Sediment-PS-river water"], "range": ["#FF00FF","#0000FF"]}},
  "shape": {"field": "series", "type": "nominal", "legend": {"title": null}, "scale": {"domain": ["As(V)-Sediment-PS-deionized water","As(V)-Sediment-PS-river water"], "range": ["square","M-1,0A1,1,0,1,0,1,0A1,1,0,1,0,-1,0ZM-0.7,-0.7L0.7,0.7M-0.7,0.7L0.7,-0.7"]}}
 }},
{"data": {"values": [{}]}, "mark": {"type": "text", "text": "b)", "align": "left", "baseline": "middle", "fontSize": 22, "font": "Liberation Sans", "color": "black"}, "encoding": {"x": {"datum": -12.5, "axis": null}, "y": {"datum": 103.5, "axis": null}}},
{"data": {"values": [{}]}, "mark": {"type": "text", "text": "As(V) adsorption on Sediment-PS", "align": "left", "baseline": "middle", "fontSize": 22, "fontWeight": "bold", "font": "Liberation Sans", "color": "black"}, "encoding": {"x": {"datum": -1.7, "axis": null}, "y": {"datum": 103.5, "axis": null}}}
]
},
{
"width": 494, "height": 313,
"resolve": {"axis": {"x": "independent", "y": "independent"}},
"layer": [
{"data": {"name": "fits"}, "transform": [{"filter": "datum.panel === 'c'"}],
 "mark": {"type": "line", "strokeWidth": 2.7, "interpolate": "monotone", "clip": true},
 "encoding": {
  "x": {"field": "time", "type": "quantitative", "scale": {"domain": [-15, 190], "nice": false, "zero": false}, "axis": {"title": null, "orient": "bottom", "values": [0,30,60,90,120,150,180]}},
  "y": {"field": "q", "type": "quantitative", "scale": {"domain": [-10, 110], "nice": false, "zero": false}, "axis": {"title": null, "orient": "left", "values": [0,20,40,60,80,100], "labelPadding": 6}},
  "detail": {"field": "curve", "type": "nominal"},
  "color": {"field": "curve", "type": "nominal", "legend": null, "scale": {"domain": ["d-PFO","d-PSO","d-Elovich","r-PFO","r-PSO","r-Elovich"], "range": ["#000090","#000090","#FF0000","#FF8000","#FF8000","#5E0B33"]}},
  "strokeDash": {"field": "curve", "type": "nominal", "legend": null, "scale": {"domain": ["d-PFO","d-PSO","d-Elovich","r-PFO","r-PSO","r-Elovich"], "range": [[1,0],[12,6],[13,5,1,5],[1,0],[12,6],[13,5,1,5]]}}
 }},
{"data": {"name": "points"}, "transform": [{"filter": "datum.panel === 'c'"}],
 "mark": {"type": "point", "size": 190, "strokeWidth": 2, "opacity": 1},
 "encoding": {
  "x": {"field": "time", "type": "quantitative", "axis": {"title": null, "orient": "bottom", "labels": false, "values": [-15,15,45,75,105,135,165]}},
  "y": {"field": "q", "type": "quantitative", "axis": {"title": null, "orient": "left", "labels": false, "values": [-10,10,30,50,70,90,110]}},
  "fill": {"field": "series", "type": "nominal", "legend": {"title": null}, "scale": {"domain": ["As(III)-Sediment-LDPE-deionized water","As(III)-Sediment-LDPE-river water"], "range": ["#000090","transparent"]}},
  "stroke": {"field": "series", "type": "nominal", "legend": {"title": null}, "scale": {"domain": ["As(III)-Sediment-LDPE-deionized water","As(III)-Sediment-LDPE-river water"], "range": ["#000090","#FF8000"]}},
  "shape": {"field": "series", "type": "nominal", "legend": {"title": null}, "scale": {"domain": ["As(III)-Sediment-LDPE-deionized water","As(III)-Sediment-LDPE-river water"], "range": ["square","M-1,0A1,1,0,1,0,1,0A1,1,0,1,0,-1,0ZM-0.7,-0.7L0.7,0.7M-0.7,0.7L0.7,-0.7"]}}
 }},
{"data": {"values": [{}]}, "mark": {"type": "text", "text": "c)", "align": "left", "baseline": "middle", "fontSize": 22, "font": "Liberation Sans", "color": "black"}, "encoding": {"x": {"datum": -13.2, "axis": null}, "y": {"datum": 103.1, "axis": null}}},
{"data": {"values": [{}]}, "mark": {"type": "text", "text": "As(III) adsorption on Sediment-LDPE", "align": "left", "baseline": "middle", "fontSize": 22, "fontWeight": "bold", "font": "Liberation Sans", "color": "black"}, "encoding": {"x": {"datum": -3.2, "axis": null}, "y": {"datum": 103.1, "axis": null}}}
]
},
{
"width": 494, "height": 313,
"resolve": {"axis": {"x": "independent", "y": "independent"}},
"layer": [
{"data": {"name": "fits"}, "transform": [{"filter": "datum.panel === 'd'"}],
 "mark": {"type": "line", "strokeWidth": 2.7, "interpolate": "monotone", "clip": true},
 "encoding": {
  "x": {"field": "time", "type": "quantitative", "scale": {"domain": [-15, 190], "nice": false, "zero": false}, "axis": {"title": null, "orient": "bottom", "values": [0,30,60,90,120,150,180]}},
  "y": {"field": "q", "type": "quantitative", "scale": {"domain": [-10, 110], "nice": false, "zero": false}, "axis": {"title": null, "orient": "left", "values": [0,20,40,60,80,100], "labelPadding": 6}},
  "detail": {"field": "curve", "type": "nominal"},
  "color": {"field": "curve", "type": "nominal", "legend": null, "scale": {"domain": ["d-PFO","d-PSO","d-Elovich","r-PFO","r-PSO","r-Elovich"], "range": ["#FF00FF","#FF00FF","#FF0000","#0000FF","#0000FF","#5E0B33"]}},
  "strokeDash": {"field": "curve", "type": "nominal", "legend": null, "scale": {"domain": ["d-PFO","d-PSO","d-Elovich","r-PFO","r-PSO","r-Elovich"], "range": [[1,0],[12,6],[13,5,1,5],[1,0],[12,6],[13,5,1,5]]}}
 }},
{"data": {"name": "points"}, "transform": [{"filter": "datum.panel === 'd'"}],
 "mark": {"type": "point", "size": 190, "strokeWidth": 2, "opacity": 1},
 "encoding": {
  "x": {"field": "time", "type": "quantitative", "axis": {"title": null, "orient": "bottom", "labels": false, "values": [-15,15,45,75,105,135,165]}},
  "y": {"field": "q", "type": "quantitative", "axis": {"title": null, "orient": "left", "labels": false, "values": [-10,10,30,50,70,90,110]}},
  "fill": {"field": "series", "type": "nominal", "legend": {"title": null}, "scale": {"domain": ["As(V)-Sediment-LDPE-deionized water","As(V)-Sediment-LDPE-river water"], "range": ["#FF00FF","transparent"]}},
  "stroke": {"field": "series", "type": "nominal", "legend": {"title": null}, "scale": {"domain": ["As(V)-Sediment-LDPE-deionized water","As(V)-Sediment-LDPE-river water"], "range": ["#FF00FF","#0000FF"]}},
  "shape": {"field": "series", "type": "nominal", "legend": {"title": null}, "scale": {"domain": ["As(V)-Sediment-LDPE-deionized water","As(V)-Sediment-LDPE-river water"], "range": ["square","M-1,0A1,1,0,1,0,1,0A1,1,0,1,0,-1,0ZM-0.7,-0.7L0.7,0.7M-0.7,0.7L0.7,-0.7"]}}
 }},
{"data": {"values": [{}]}, "mark": {"type": "text", "text": "d)", "align": "left", "baseline": "middle", "fontSize": 22, "font": "Liberation Sans", "color": "black"}, "encoding": {"x": {"datum": -13.8, "axis": null}, "y": {"datum": 104.4, "axis": null}}},
{"data": {"values": [{}]}, "mark": {"type": "text", "text": "As(V) adsorption on Sediment-LDPE", "align": "left", "baseline": "middle", "fontSize": 22, "fontWeight": "bold", "font": "Liberation Sans", "color": "black"}, "encoding": {"x": {"datum": -3.2, "axis": null}, "y": {"datum": 104.4, "axis": null}}}
]
}
]
}
]
}
